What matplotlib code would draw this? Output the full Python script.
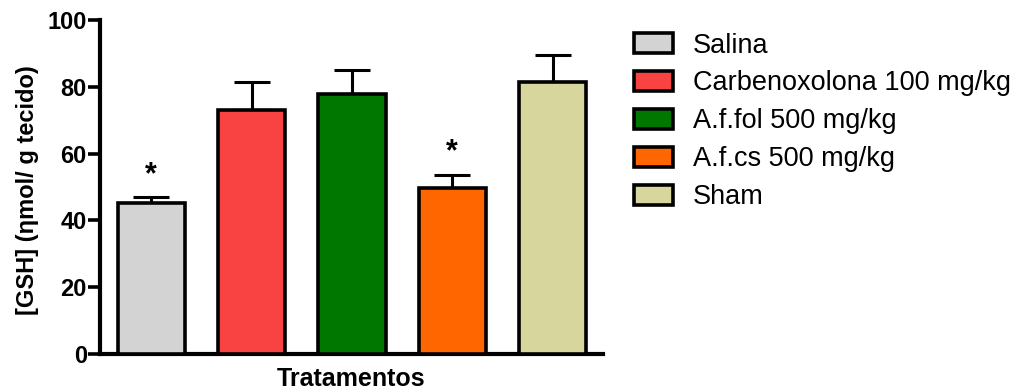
import matplotlib
matplotlib.use("Agg")
import matplotlib.pyplot as plt
from matplotlib.patches import Patch

plt.rcParams['font.family'] = ['Liberation Sans', 'DejaVu Sans']

groups = ["Salina", "Carbenoxolona 100 mg/kg", "A.f.fol 500 mg/kg",
          "A.f.cs 500 mg/kg", "Sham"]
means = [45.1, 73.1, 77.9, 49.6, 81.5]
errors = [1.8, 8.4, 7.2, 4.1, 8.1]
significant = [True, False, False, True, False]
colors = ["#D3D3D3", "#F94343", "#007800", "#FF6600", "#D7D69C"]
yticks = [0, 20, 40, 60, 80, 100]

fig = plt.figure(figsize=(10.18, 3.92), dpi=100)
ax = fig.add_axes([0.0982, 0.097, 0.494, 0.852])

x = list(range(len(groups)))
ax.bar(x, means, width=0.67, color=colors, edgecolor="black", linewidth=2.6,
       zorder=3)
ax.errorbar(x, means, yerr=[[0] * len(errors), errors], fmt="none",
            ecolor="black", elinewidth=2.2, capsize=13, capthick=2.2, zorder=2)

for xi, m, e, s in zip(x, means, errors, significant):
    if s:
        ax.text(xi, m + e + 2.2, "*", ha="center", va="bottom",
                fontsize=22, fontweight="bold")

ax.set_xlim(-0.51, 4.5)
ax.set_ylim(0, 100)
ax.set_yticks(yticks)
ax.set_xticks([])
ax.tick_params(axis="y", length=8.5, width=2.6, labelsize=17, pad=1)
for lbl in ax.get_yticklabels():
    lbl.set_fontweight("bold")
for side in ("top", "right"):
    ax.spines[side].set_visible(False)
for side in ("left", "bottom"):
    ax.spines[side].set_linewidth(3)

ax.set_ylabel("[GSH] (ηmol/ g tecido)", fontsize=17, fontweight="bold")
ax.yaxis.set_label_coords(-0.121, 0.49)
ax.set_xlabel("Tratamentos", fontsize=18, fontweight="bold")
ax.xaxis.set_label_coords(0.5, -0.04)

handles = [Patch(facecolor=c, edgecolor="black", linewidth=2.6) for c in colors]
fig.legend(handles, groups, loc="upper left", bbox_to_anchor=(0.623, 0.917),
           frameon=False, fontsize=19.5, handlelength=1.45, handleheight=0.75,
           labelspacing=0.44, handletextpad=0.72, borderpad=0, borderaxespad=0)

fig.savefig("out.png", dpi=100)
